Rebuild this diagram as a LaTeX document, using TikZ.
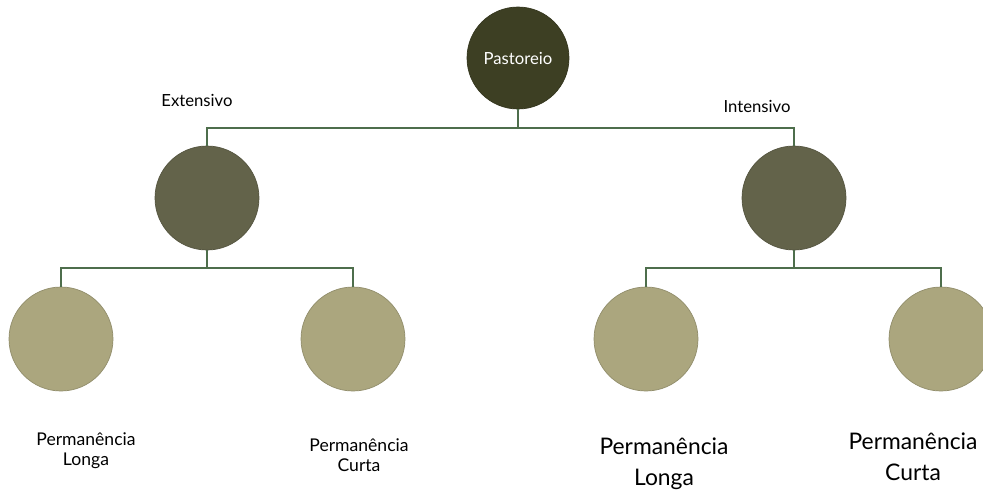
\documentclass[tikz,border=0pt]{standalone}
\usepackage{fontspec}
\setmainfont{Lato}
\usepackage{xcolor}
\usetikzlibrary{positioning}
\definecolor{darkolive}{HTML}{3D3F23}
\definecolor{midolive}{HTML}{63634A}
\definecolor{lightolive}{HTML}{ABA67E}
\definecolor{treegreen}{HTML}{4E6E4C}
\begin{document}
\begin{tikzpicture}[x=0.02cm, y=-0.02cm,
  bubble/.style={circle, minimum size=2.08cm, inner sep=0pt, draw=#1!85!black, fill=#1},
  branch/.style={treegreen, line width=0.9pt},
  smalllabel/.style={align=center, font=\fontsize{10}{11.5}\selectfont},
  biglabel/.style={align=center, font=\fontsize{13}{17.5}\selectfont}]
\useasboundingbox (0,0) rectangle (983,491);
\clip (0,0) rectangle (983,491);
\node[bubble=darkolive, minimum size=2.04cm, text=white, font=\fontsize{9.5}{11}\selectfont] (top) at (518,58) {Pastoreio};
\node[bubble=midolive] (ext) at (207,198) {};
\node[bubble=midolive] (int) at (794,198) {};
\node[bubble=lightolive] (extlong) at (61,339) {};
\node[bubble=lightolive] (extshort) at (353,339) {};
\node[bubble=lightolive] (intlong) at (646,339) {};
\node[bubble=lightolive] (intshort) at (941,339) {};
\node[font=\fontsize{9.5}{11}\selectfont] (extlabel) at (197,100) {Extensivo};
\node[font=\fontsize{9.5}{11}\selectfont] (intlabel) at (757,106) {Intensivo};
\node[smalllabel] (extlongtxt) at (86,451) {Permanência\\Longa};
\node[smalllabel] (extshorttxt) at (359,455) {Permanência\\Curta};
\node[biglabel] (intlongtxt) at (664,464) {Permanência\\Longa};
\node[biglabel] (intshorttxt) at (913,457) {Permanência\\Curta};
\coordinate (j0) at (518,128);
\coordinate (j1) at (207,268);
\coordinate (j2) at (794,268);
\draw[branch] (top.south) -- (j0);
\draw[branch] (ext.north) |- (j0) -| (int.north);
\draw[branch] (ext.south) -- (j1);
\draw[branch] (extlong.north) |- (j1) -| (extshort.north);
\draw[branch] (int.south) -- (j2);
\draw[branch] (intlong.north) |- (j2) -| (intshort.north);
\end{tikzpicture}
\end{document}
